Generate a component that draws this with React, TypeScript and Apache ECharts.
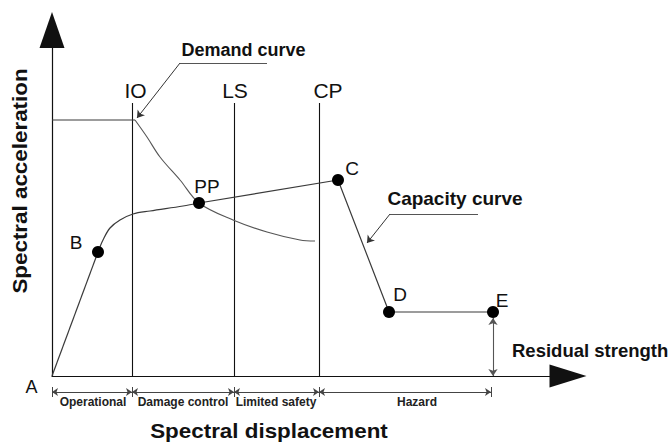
import React, { useEffect, useRef } from "react";
import * as echarts from "echarts";

const FONT = 'Arial, "Liberation Sans", Helvetica, sans-serif';

// ---- Capacity curve (spectral displacement Sd, spectral acceleration Sa; arbitrary units) ----
// A -> B (elastic branch)
const elasticSd = [0, 46];
const elasticSa = [0, 124];
// B -> PP (hardening branch, curved)
const hardeningSd = [46, 51, 58, 68, 81, 98, 131, 147];
const hardeningSa = [124, 136, 148, 156, 162, 165, 170, 173];
// PP -> C -> D -> E
const degradingSd = [147, 286, 337, 441];
const degradingSa = [173, 196, 64, 64];

// ---- Demand curve ----
const plateauSd = [0, 83];
const plateauSa = [256, 256];
const demandSd = [83, 95, 108, 128, 147, 181, 215, 248, 263];
const demandSa = [256, 239, 219, 196, 173, 156, 144, 136, 135];

// ---- Key points ----
const pointNames = ["B", "PP", "C", "D", "E"];
const pointSd = [46, 147, 286, 337, 441];
const pointSa = [124, 173, 196, 64, 64];

// ---- Performance levels ----
const levelNames = ["IO", "LS", "CP"];
const levelSd = [80, 182, 267];
const levelTopSa = 273;

// ---- Performance ranges (dimension line below the axis) ----
const rangeNames = ["Operational", "Damage control", "Limited safety", "Hazard"];
const rangeBounds = [0, 80, 182, 267, 439];
const rangeLineSa = -16;
const rangeTickSa = [-11, -21];

// ---- Residual strength ----
const residualSd = 441;
const residualSa = [58, 0];

// ---- Callouts (underline start/end, arrow tip) ----
const demandCallout = { from: [215, 313], knee: [128, 313], tip: [85, 258] };
const capacityCallout = { from: [426, 162], knee: [338, 162], tip: [315, 133] };

const zip = (xs: number[], ys: number[]) => xs.map((x, i) => [x, ys[i]]);

// label offsets (layout only)
const pointLabelOffsets: Record<string, number[]> = {
  B: [-22, -10],
  PP: [8, -17],
  C: [14, -12],
  D: [11, -18],
  E: [9, -12],
};
const levelLabelOffsets: Record<string, number[]> = {
  IO: [3.5, -12.5],
  LS: [1, -12.5],
  CP: [9, -12.5],
};
const rangeLabelX = [93, 183, 276, 417];

export default function App() {
  const ref = useRef<HTMLDivElement>(null);

  useEffect(() => {
    document.body.style.margin = "0";
    if (!ref.current) return;
    const chart = echarts.init(ref.current, undefined, { renderer: "svg" });

    const curveStyle = { color: "#3a3a3a", width: 1.2 };
    const lineBase = {
      type: "line" as const,
      showSymbol: false,
      silent: true,
      clip: false,
    };

    const option: any = {
      animation: false,
      backgroundColor: "#ffffff",
      grid: { left: 52, top: 30, right: 102, bottom: 66 },
      xAxis: {
        type: "value",
        min: 0,
        max: 516,
        axisLine: {
          show: true,
          symbol: ["none", "triangle"],
          symbolSize: [23, 37],
          lineStyle: { color: "#111", width: 1.2 },
        },
        axisTick: { show: false },
        axisLabel: { show: false },
        splitLine: { show: false },
      },
      yAxis: {
        type: "value",
        min: 0,
        max: 346,
        axisLine: {
          show: true,
          symbol: ["none", "triangle"],
          symbolSize: [25, 36],
          lineStyle: { color: "#111", width: 1.2 },
        },
        axisTick: { show: false },
        axisLabel: { show: false },
        splitLine: { show: false },
      },
      series: [
        { ...lineBase, name: "Capacity elastic", data: zip(elasticSd, elasticSa), lineStyle: curveStyle },
        {
          ...lineBase,
          name: "Capacity hardening",
          data: zip(hardeningSd, hardeningSa),
          smooth: 0.35,
          lineStyle: curveStyle,
        },
        { ...lineBase, name: "Capacity degrading", data: zip(degradingSd, degradingSa), lineStyle: curveStyle },
        { ...lineBase, name: "Demand plateau", data: zip(plateauSd, plateauSa), lineStyle: curveStyle },
        {
          ...lineBase,
          name: "Demand curve",
          data: zip(demandSd, demandSa),
          smooth: 0.35,
          lineStyle: { color: "#555", width: 1.1 },
        },
        {
          type: "lines",
          coordinateSystem: "cartesian2d",
          silent: true,
          clip: false,
          symbol: ["none", "none"],
          lineStyle: { color: "#111", width: 1.1, opacity: 1 },
          data: levelSd.map((x) => ({ coords: [[x, 0], [x, levelTopSa]] })),
        },
        {
          type: "scatter",
          silent: true,
          symbolSize: 0,
          itemStyle: { opacity: 1 },
          data: levelNames.map((n, i) => ({
            name: n,
            value: [levelSd[i], levelTopSa],
            label: { offset: levelLabelOffsets[n] },
          })),
          label: {
            show: true,
            position: "inside",
            formatter: "{b}",
            fontFamily: FONT,
            fontSize: 21,
            color: "#111",
            opacity: 1,
            align: "center",
            verticalAlign: "middle",
          },
        },
        // range dimension segments
        {
          type: "lines",
          coordinateSystem: "cartesian2d",
          silent: true,
          clip: false,
          symbol: ["arrow", "arrow"],
          symbolSize: 6,
          lineStyle: { color: "#444", width: 1, opacity: 1 },
          data: rangeNames.map((_, i) => ({
            coords: [
              [rangeBounds[i], rangeLineSa],
              [rangeBounds[i + 1], rangeLineSa],
            ],
          })),
        },
        // range ticks
        {
          type: "lines",
          coordinateSystem: "cartesian2d",
          silent: true,
          clip: false,
          symbol: ["none", "none"],
          lineStyle: { color: "#444", width: 1, opacity: 1 },
          data: rangeBounds.map((x) => ({
            coords: [
              [x, rangeTickSa[0]],
              [x, rangeTickSa[1]],
            ],
          })),
        },
        // residual strength arrow
        {
          type: "lines",
          coordinateSystem: "cartesian2d",
          silent: true,
          clip: false,
          symbol: ["arrow", "arrow"],
          symbolSize: 7,
          lineStyle: { color: "#555", width: 1.1, opacity: 1 },
          data: [{ coords: [[residualSd, residualSa[0]], [residualSd, residualSa[1]]] }],
        },
        // callout underlines
        {
          type: "lines",
          coordinateSystem: "cartesian2d",
          silent: true,
          clip: false,
          symbol: ["none", "none"],
          lineStyle: { color: "#555", width: 1.1, opacity: 1 },
          data: [
            { coords: [demandCallout.from, demandCallout.knee] },
            { coords: [capacityCallout.from, capacityCallout.knee] },
          ],
        },
        // callout leaders with arrow
        {
          type: "lines",
          coordinateSystem: "cartesian2d",
          silent: true,
          clip: false,
          symbol: ["none", "arrow"],
          symbolSize: 7,
          lineStyle: { color: "#333", width: 1, opacity: 1 },
          data: [
            { coords: [demandCallout.knee, demandCallout.tip] },
            { coords: [capacityCallout.knee, capacityCallout.tip] },
          ],
        },
        // key points
        {
          type: "scatter",
          silent: true,
          z: 5,
          symbolSize: 12,
          itemStyle: { color: "#000", opacity: 1 },
          data: pointNames.map((n, i) => ({
            name: n,
            value: [pointSd[i], pointSa[i]],
            label: { offset: pointLabelOffsets[n] },
          })),
          label: {
            show: true,
            position: "inside",
            formatter: "{b}",
            fontFamily: FONT,
            fontSize: 19,
            color: "#111",
            align: "center",
            verticalAlign: "middle",
          },
        },
      ],
      graphic: [
        {
          type: "text",
          x: 20,
          y: 181,
          rotation: Math.PI / 2,
          scaleX: 1.12,
          style: {
            text: "Spectral acceleration",
            fontFamily: FONT,
            fontWeight: "bold",
            fontSize: 20,
            fill: "#111",
            align: "center",
            verticalAlign: "middle",
          },
        },
        {
          type: "text",
          x: 269,
          y: 431,
          scaleX: 1.12,
          style: {
            text: "Spectral displacement",
            fontFamily: FONT,
            fontWeight: "bold",
            fontSize: 20,
            fill: "#111",
            align: "center",
            verticalAlign: "middle",
          },
        },
        {
          type: "text",
          x: 243.5,
          y: 50,
          style: {
            text: "Demand curve",
            fontFamily: FONT,
            fontWeight: "bold",
            fontSize: 18,
            fill: "#111",
            align: "center",
            verticalAlign: "middle",
          },
        },
        {
          type: "text",
          x: 455,
          y: 198,
          style: {
            text: "Capacity curve",
            fontFamily: FONT,
            fontWeight: "bold",
            fontSize: 19,
            fill: "#111",
            align: "center",
            verticalAlign: "middle",
          },
        },
        {
          type: "text",
          x: 512,
          y: 350,
          style: {
            text: "Residual strength",
            fontFamily: FONT,
            fontWeight: "bold",
            fontSize: 18.5,
            fill: "#111",
            align: "left",
            verticalAlign: "middle",
          },
        },
        {
          type: "text",
          x: 31.5,
          y: 387,
          style: {
            text: "A",
            fontFamily: FONT,
            fontSize: 18,
            fill: "#111",
            align: "center",
            verticalAlign: "middle",
          },
        },
        ...rangeNames.map((n, i) => ({
          type: "text",
          x: rangeLabelX[i],
          y: 402,
          style: {
            text: n,
            fontFamily: FONT,
            fontWeight: "bold",
            fontSize: 12,
            fill: "#222",
            align: "center",
            verticalAlign: "middle",
          },
        })),
      ],
    };

    chart.setOption(option);
    return () => {
      chart.dispose();
    };
  }, []);

  return <div ref={ref} style={{ width: 670, height: 442 }} />;
}
